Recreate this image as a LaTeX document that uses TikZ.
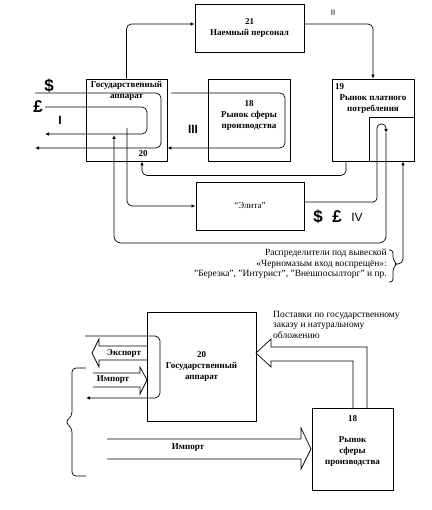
\documentclass[tikz,border=0pt]{standalone}
\usepackage{fontspec}
\setmainfont{Liberation Serif}
\newfontfamily\symfont{Liberation Sans}
\usetikzlibrary{arrows.meta}
\begin{document}
\begin{tikzpicture}[x=1pt, y=-1pt,
    box/.style={draw, line width=0.9pt, inner sep=0pt},
    boxtext/.style={font=\bfseries\fontsize{9}{11}\selectfont, align=center, inner sep=0pt},
    note/.style={font=\fontsize{9.5}{10.5}\selectfont, inner sep=0pt},
    sym/.style={font=\symfont\bfseries\fontsize{17}{17}\selectfont, inner sep=0pt},
    num/.style={font=\symfont\fontsize{12}{12}\selectfont, inner sep=0pt},
    link/.style={line width=0.7pt, rounded corners=5pt},
    tip/.style={-{Latex[length=4pt,width=3.5pt]}},
    hollow/.style={line width=0.7pt, line join=miter}]
  \useasboundingbox (0,0) rectangle (431,510);
  \def\legA{4pt}
  % upper scheme
  \node[box, minimum width=109pt, minimum height=48pt, boxtext] (pers) at (249.5,28) {21\\Наемный персонал};
  \node[box, minimum width=81pt, minimum height=82pt] (gos) at (126.5,120) {};
  \node[boxtext, anchor=north] (gosT) at (126.5,81) {Государственный\\аппарат};
  \node[boxtext] (gosN) at (143,154) {20};
  \node[box, minimum width=82pt, minimum height=82pt] (rsp) at (249,120) {};
  \node[boxtext] (rspT) at (249,115) {18\\Рынок сферы\\производства};
  \node[box, minimum width=82pt, minimum height=82pt] (rpp) at (373,120) {};
  \node[boxtext, anchor=west] (rppN) at (335,87) {19};
  \node[boxtext] (rppT) at (373,104) {Рынок платного\\потребления};
  \node[draw, line width=0.9pt, minimum width=45pt, minimum height=44pt, inner sep=0pt] (shop) at (391.5,139) {};
  \node[box, minimum width=108pt, minimum height=48pt, boxtext] (elita) at (250,206) {\mdseries “Элита”};
  \node[sym] (dol) at (49,86) {\$};
  \node[sym] (pnd) at (38,107) {£};
  \node[num, font=\symfont\bfseries\fontsize{12}{12}\selectfont] (r1) at (60,120) {I};
  \node[num, font=\symfont\bfseries\fontsize{12}{12}\selectfont] (r3) at (193,129) {III};
  \node[num, font=\symfont\fontsize{8}{8}\selectfont] (r2) at (333,13) {II};
  \node[sym] (dol4) at (318,217) {\$};
  \node[sym] (pnd4) at (337,217) {£};
  \node[num] (r4) at (357,217) {IV};
  \coordinate (dIn) at (35,93);
  \coordinate (dOut) at (35,148);
  \coordinate (pIn) at (45,107);
  \coordinate (pOut) at (45,134);
  \coordinate (c3) at (171,93);
  \coordinate (g1) at (127,128);
  \coordinate (g2) at (114,135);
  \coordinate (s1) at (386,133);
  \draw[link, tip] (gos.north) |- ([yshift=\legA]pers.west);
  \draw[link, tip] ([yshift=\legA]pers.east) -| (rpp.north);
  \draw[link, tip] (dIn) -- (161,93) -- (161,148) -- (dOut);
  \draw[link, tip] (pIn) -- (147,107) -- (147,134) -- (pOut);
  \draw[link, tip] (c3) -- (285,93) -- (285,148) -- ([yshift=-28pt]gos.east);
  \draw[link, tip] (g1) |- (elita.west);
  \draw[link, tip] ([xshift=-27pt]rpp.south) -- ++(0,14) -| ([xshift=15.5pt]gos.south);
  \draw[link, rounded corners=4pt, tip] ([yshift=\legA]elita.east) -- (377,202) -- (377,124) -- (386,124) -- (s1);
  \draw[link, rounded corners=7pt, tip] (s1) -- (386,243) -- (114,243) -- (g2);
  \node[note, anchor=east, align=right] (distr) at (387,264) {Распределители под вывеской\\«Черномазым вход воспрещён»:\\"Березка", "Интурист", "Внешпосылторг" и пр.};
  \draw[line width=0.7pt, rounded corners=3pt] (389,250) -| (393,260) -- (397,264) -- (393,268) |- (389,282);
  \coordinate (bt) at (397,264);
  \draw[link, tip] (bt) -| ([xshift=11.5pt]shop.south);
  % lower scheme
  \node[box, minimum width=109pt, minimum height=109pt, boxtext] (gos2) at (201.5,366.5) {20\\Государственный\\аппарат};
  \node[box, minimum width=81pt, minimum height=82pt] (rsp2) at (352.5,449) {};
  \node[boxtext] (rsp2N) at (352.5,419) {18};
  \node[boxtext] (rsp2T) at (352.5,452) {Рынок\\сферы\\производства};
  \draw[hollow] (367,408) -- (367,347) -- (271,347) -- (271,339) -- (256,353) -- (271,367) -- (271,361) -- (353,361) -- (353,408);
  \node[note, anchor=north west, align=left] (supply) at (273,311) {Поставки по государственному\\заказу и натуральному\\обложению};
  \draw[hollow] (147,346) -- (99,346) -- (99,339) -- (92,353) -- (99,367) -- (99,360) -- (147,360);
  \node[boxtext] (exp) at (124,353) {Экспорт};
  \draw[hollow] (93,373) -- (140,373) -- (140,367) -- (147,380) -- (140,394) -- (140,387) -- (93,387);
  \node[boxtext] (imp1) at (113,380) {Импорт};
  \draw[hollow] (107,439) -- (301,439) -- (301,428) -- (311,449) -- (301,469) -- (301,459) -- (107,459);
  \node[boxtext] (imp2) at (188,448) {Импорт};
  \coordinate (lIn) at (85,336);
  \coordinate (lOut) at (86,398);
  \draw[link, tip] (lIn) -- (160,336) -- (160,398) -- (lOut);
  \draw[line width=0.7pt, rounded corners=4pt] (86,368) -| (72,416) -- (65,422) -- (72,428) |- (86,476);
\end{tikzpicture}
\end{document}
